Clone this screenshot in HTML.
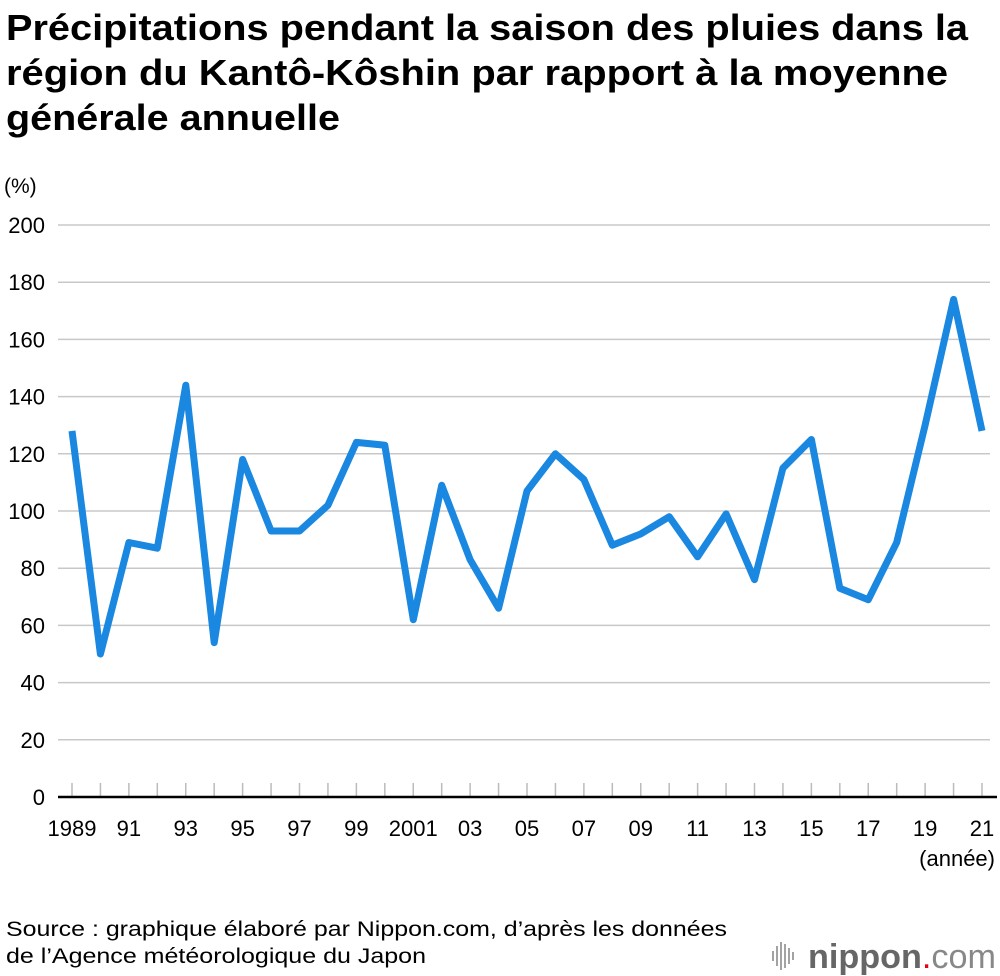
<!DOCTYPE html>
<html><head><meta charset="utf-8"><style>
body{margin:0;background:#fff;font-family:"Liberation Sans",sans-serif;}
#c{position:relative;width:1000px;height:976px;overflow:hidden;}
</style></head><body>
<div id="c">
<svg width="1000" height="976">
<g font-family="Liberation Sans, sans-serif" font-weight="bold" font-size="36" fill="#000" lengthAdjust="spacingAndGlyphs">
<text x="6" y="40" textLength="962" lengthAdjust="spacingAndGlyphs">Précipitations pendant la saison des pluies dans la</text>
<text x="6" y="85" textLength="942" lengthAdjust="spacingAndGlyphs">région du Kantô-Kôshin par rapport à la moyenne</text>
<text x="6" y="130" textLength="334" lengthAdjust="spacingAndGlyphs">générale annuelle</text>
</g>
<text x="4" y="193" font-size="21">(%)</text>
<g id="grid"></g><g id="ylab"></g><g id="ticks"></g><g id="xlab"></g>
<line x1="58" x2="997" y1="797" y2="797" stroke="#000" stroke-width="2.5"/>
<path id="line" fill="none" stroke="#1a87e0" stroke-width="7" stroke-linejoin="round"/>
<text x="995" y="866" font-size="22" text-anchor="end">(année)</text>
<g font-size="21">
<text x="6" y="936" textLength="721" lengthAdjust="spacingAndGlyphs">Source : graphique élaboré par Nippon.com, d’après les données</text>
<text x="6" y="963" textLength="420" lengthAdjust="spacingAndGlyphs">de l’Agence météorologique du Japon</text>
</g>
<g>
<g stroke="#999" stroke-width="1.8">
<line x1="773" y1="951" x2="773" y2="961"/><line x1="777" y1="946" x2="777" y2="966"/><line x1="781" y1="942" x2="781" y2="970"/><line x1="785" y1="944" x2="785" y2="968"/><line x1="789" y1="948" x2="789" y2="964"/><line x1="793" y1="952" x2="793" y2="960"/>
</g>
<text x="808" y="968" font-size="34" fill="#666" textLength="188" lengthAdjust="spacingAndGlyphs"><tspan font-weight="bold">nippon</tspan><tspan fill="#e60012">.</tspan><tspan fill="#888">com</tspan></text>
</g>
</svg>
</div>
<script>
const years=[1989,1990,1991,1992,1993,1994,1995,1996,1997,1998,1999,2000,2001,2002,2003,2004,2005,2006,2007,2008,2009,2010,2011,2012,2013,2014,2015,2016,2017,2018,2019,2020,2021];
const values=[128,50,89,87,144,54,118,93,93,102,124,123,62,109,83,66,107,120,111,88,92,98,84,99,76,115,125,73,69,89,130,174,128];
const yTicks=[0,20,40,60,80,100,120,140,160,180,200];
const xLabels=["1989","91","93","95","97","99","2001","03","05","07","09","11","13","15","17","19","21"];
const NS="http://www.w3.org/2000/svg";
const x=yr=>72+(yr-1989)*(910/32);
const y=v=>797-v*(572/200);
function mk(tag,attrs,parent,txt){const e=document.createElementNS(NS,tag);for(const k in attrs)e.setAttribute(k,attrs[k]);if(txt!==undefined)e.textContent=txt;document.getElementById(parent).appendChild(e);return e;}
yTicks.forEach(t=>{
 if(t>0){const g=mk('line',{x1:58,x2:990,y1:y(t),y2:y(t),stroke:'#c8c8c8','stroke-width':1.5},'grid');
 
 }
 const l=mk('text',{x:45,y:y(t)+8,'font-size':22,'text-anchor':'end'},'ylab',t);
 
 
});
years.forEach(yr=>{
 const t=mk('line',{x1:x(yr),x2:x(yr),y1:783,y2:796,stroke:'#bbb','stroke-width':1.5},'ticks');
 
 
});
xLabels.forEach((lab,i)=>{
 const t=mk('text',{x:x(1989+i*2),y:836,'font-size':22,'text-anchor':'middle'},'xlab',lab);
 
 
});
document.getElementById('line').setAttribute('d',values.map((v,i)=>(i?'L':'M')+x(years[i]).toFixed(1)+' '+y(v).toFixed(1)).join(' '));
</script>
</body></html>
